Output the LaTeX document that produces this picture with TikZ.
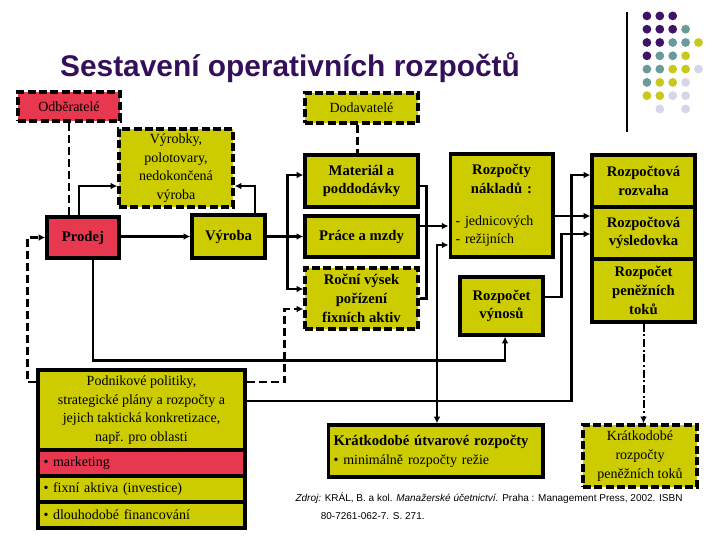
\documentclass[tikz,border=0pt]{standalone}
\usepackage{fontspec}
\setmainfont{Liberation Serif}
\newfontfamily\sansfont{Liberation Sans}
\usetikzlibrary{calc,arrows.meta}

\definecolor{boxyellow}{RGB}{204,204,0}
\definecolor{boxred}{RGB}{232,56,80}
\definecolor{titlepurple}{RGB}{53,16,90}
\definecolor{dotpurple}{RGB}{61,20,102}
\definecolor{dotteal}{RGB}{107,154,154}
\definecolor{dotyellow}{RGB}{200,200,30}
\definecolor{dotlilac}{RGB}{214,214,232}

\tikzset{every picture/.style={line width=0.75pt}}
\tikzset{
  box/.style={draw, line width=2.5pt, fill=boxyellow, inner sep=3pt, align=center, font=\fontsize{10.5}{14}\selectfont},
  boldbox/.style={box, font=\fontsize{11}{14}\selectfont\bfseries},
  dashbox/.style={dash pattern=on 6pt off 2.5pt},
  listbox/.style={box, text width=147pt, align=left, inner xsep=4pt, inner ysep=1pt, minimum width=155.25pt, minimum height=19.5pt},
  plainline/.style={line width=2pt},
  conn/.style={line width=2pt, -{Latex[length=5pt,width=5pt]}},
  bothconn/.style={line width=2pt, {Latex[length=5pt,width=5pt]}-{Latex[length=5pt,width=5pt]}},
  dashline/.style={line width=2pt, dash pattern=on 6pt off 3pt},
  dotdash/.style={line width=1.5pt, dash pattern=on 6pt off 2pt on 1.5pt off 2pt}
}

\begin{document}
\begin{tikzpicture}[x=0.75pt,y=0.75pt,yscale=-1,xscale=1]
	\useasboundingbox (0,0) rectangle (720,540);
	
	% Title
	\node (title) at (290,68) {\sansfont\fontsize{22.4}{26}\selectfont\bfseries\color{titlepurple}Sestavení operativních rozpočtů};
	% Rule and dots
	\draw [line width=1.2pt] (627,12) -- (627,132);
	\foreach \c/\r/\col in {1/1/dotpurple,2/1/dotpurple,3/1/dotpurple,
		1/2/dotpurple,2/2/dotpurple,3/2/dotpurple,4/2/dotteal,
		1/3/dotpurple,2/3/dotpurple,3/3/dotteal,4/3/dotteal,5/3/dotyellow,
		1/4/dotpurple,2/4/dotteal,3/4/dotteal,4/4/dotyellow,
		1/5/dotteal,2/5/dotteal,3/5/dotyellow,4/5/dotyellow,5/5/dotlilac,
		1/6/dotteal,2/6/dotyellow,3/6/dotyellow,4/6/dotlilac,
		1/7/dotyellow,2/7/dotyellow,3/7/dotlilac,4/7/dotlilac,
		2/8/dotlilac,4/8/dotlilac}
		\fill [\col] (634+12.9*\c,2.6+13.3*\r) circle [radius=3.3pt];
	
	% Boxes: left part
	\node [box, dashbox, fill=boxred, minimum width=76.5pt, minimum height=21.75pt] (odb) at (69,106.5) {Odběratelé};
	\node [box, dashbox, minimum width=85.5pt, minimum height=58.5pt] (vyr) at (176,168) {Výrobky,\\ polotovary,\\ nedokončená\\ výroba};
	\node [boldbox, fill=boxred, minimum width=54pt, minimum height=30.75pt] (prodej) at (83,237.5) {Prodej};
	\node [boldbox, minimum width=54.75pt, minimum height=32.25pt] (vyroba) at (228.5,236.5) {Výroba};
	% Boxes: middle part
	\node [box, dashbox, minimum width=84.75pt, minimum height=22.5pt] (dod) at (361.5,108) {Dodavatelé};
	\node [boldbox, minimum width=84.75pt, minimum height=39pt] (mat) at (361.5,181) {Materiál a\\ poddodávky};
	\node [boldbox, minimum width=84.75pt, minimum height=30.75pt] (prace) at (361.5,236.5) {Práce a mzdy};
	\node [boldbox, dashbox, minimum width=84.75pt, minimum height=45.75pt] (rocni) at (361.5,298.5) {Roční výsek\\ pořízení\\ fixních aktiv};
	\node [boldbox, text width=69pt, inner xsep=4pt, minimum height=77.25pt] (rn) at (501.5,205.5) {{Rozpočty\\ nákladů :\par}\vspace{10pt}{\raggedright\mdseries\fontsize{10.5}{14}\selectfont - jednicových\\ - režijních\par}};
	\node [boldbox, minimum width=62.25pt, minimum height=43.5pt] (vynosy) at (501.5,306) {Rozpočet\\ výnosů};
	% Boxes: right part
	\node [boldbox, minimum width=77.25pt, minimum height=39pt] (rozvaha) at (643.5,181) {Rozpočtová\\ rozvaha};
	\node [boldbox, minimum width=77.25pt, minimum height=39pt] (vysl) at (643.5,233) {Rozpočtová\\ výsledovka};
	\node [boldbox, minimum width=77.25pt, minimum height=47.25pt] (toky) at (643.5,290.5) {Rozpočet\\ peněžních\\ toků};
	% Boxes: bottom part
	\node [box, minimum width=155.25pt, minimum height=60pt, inner sep=1pt] (pod) at (141.5,410) {Podnikové politiky,\\ strategické plány a rozpočty a\\ jejich taktická konkretizace,\\ např. pro oblasti};
	\node [listbox, fill=boxred] (mark) at (141.5,463) {\textbullet\ marketing};
	\node [listbox] (fix) at (141.5,489) {\textbullet\ fixní aktiva (investice)};
	\node [listbox] (dlouh) at (141.5,515) {\textbullet\ dlouhodobé financování};
	\node [boldbox, text width=153pt, align=left, inner xsep=4pt, minimum height=39pt] (kur) at (435.5,451) {Krátkodobé útvarové rozpočty\\ \mdseries\fontsize{10.5}{14}\selectfont\textbullet\ minimálně rozpočty režie};
	\node [box, dashbox, minimum width=85.5pt, minimum height=46.5pt, inner sep=1pt] (kpt) at (640,456) {Krátkodobé\\ rozpočty\\ peněžních toků};
	
	% Connectors
	\draw [dashline] (odb.south) -- (odb.south |- prodej.north);
	\draw [dashline] ($(dod.south)+(-4,0)$) -- ($(mat.north)+(-4,0)$);
	\draw [conn] ($(prodej.north)+(-4,0)$) |- ($(vyr.west)+(0,18)$);
	\draw [conn] ($(vyroba.north)+(26.5,0)$) |- ($(vyr.east)+(0,18)$);
	\draw [conn] ($(prodej.east)+(0,-1)$) -- (vyroba.west);
	\coordinate (vsplit) at ($(vyroba.east)+(21,0)$);
	\draw [conn] (vyroba.east) -- (prace.west);
	\draw [conn] (vsplit) |- ($(mat.west)+(0,-6)$);
	\draw [conn] (vsplit) |- ($(rocni.west)+(0,-9.5)$);
	\coordinate (nbus) at ($(rn.west)+(-22,20.5)$);
	\draw [plainline] ($(mat.east)+(0,5)$) -| (nbus) |- (rocni.east);
	\draw [conn] ($(prace.east)+(0,-10.5)$) -- ($(rn.west)+(0,20.5)$);
	\draw [bothconn] ($(rn.west)+(0,39.5)$) -| ($(kur.north)+(1.5,0)$);
	\draw [conn] ($(prodej.south)+(10,0)$) |- ($(vynosy.south)+(3.5,24)$) -- ($(vynosy.south)+(3.5,0)$);
	\draw [conn] ($(rn.east)+(0,10.5)$) -- ($(vysl.west)+(0,-17)$);
	\draw [conn] ($(vynosy.east)+(0,-9)$) -| ($(vysl.west)+(-29,1)$) -- ($(vysl.west)+(0,1)$);
	\draw [conn] ($(pod.east)+(0,-9)$) -| ($(rozvaha.west)+(-19,-6)$) -- ($(rozvaha.west)+(0,-6)$);
	\draw [dotdash, -{Latex[length=5pt,width=5pt]}] (toky.south) -- (toky.south |- kpt.north);
	\draw [dashline, -{Latex[length=5pt,width=5pt]}] ($(pod.west)+(0,-28)$) -- ++(-9,0) |- (prodej.west);
	\draw [dashline, -{Latex[length=5pt,width=5pt]}] ($(pod.east)+(0,-28)$) -| ($(rocni.west)+(-19,10.5)$) -- ($(rocni.west)+(0,10.5)$);
	
	% Source
	\node [anchor=north west, inner sep=0pt, align=left, font=\sansfont\fontsize{7.5}{14}\selectfont] (zdroj) at (295,492) {\textit{Zdroj:} KRÁL, B. a kol. \textit{Manažerské účetnictví.} Praha : Management Press, 2002. ISBN\\ \hspace*{19pt}80-7261-062-7. S. 271.};
	
\end{tikzpicture}
\end{document}
